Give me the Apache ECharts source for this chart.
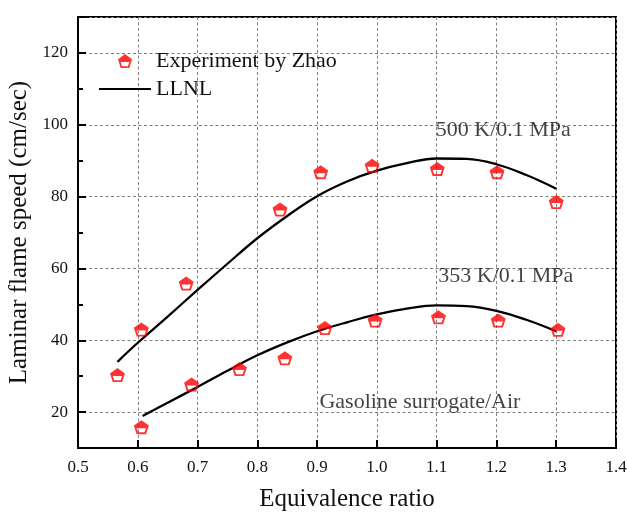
<!DOCTYPE html>
<html>
<head>
<meta charset="utf-8">
<script src="https://cdn.jsdelivr.net/npm/echarts@6/dist/echarts.min.js"></script>
<style>
  html, body { margin: 0; padding: 0; background: #fff; }
  #chart { width: 627px; height: 513px; }
</style>
</head>
<body>
<div id="chart"></div>
<script>
// Laminar flame speed of a gasoline surrogate / air mixture vs equivalence ratio

// Experimental points (Zhao), 500 K / 0.1 MPa
const exp500Phi = [0.566, 0.606, 0.681, 0.838, 0.906, 0.992, 1.101, 1.201, 1.300];
const exp500Speed = [30.3, 43.0, 55.8, 76.4, 86.8, 88.6, 87.7, 86.8, 78.5];

// Experimental points (Zhao), 353 K / 0.1 MPa
const exp353Phi = [0.606, 0.690, 0.770, 0.846, 0.913, 0.997, 1.103, 1.203, 1.303];
const exp353Speed = [15.8, 27.7, 32.0, 35.0, 43.4, 45.5, 46.4, 45.5, 42.9];

// LLNL mechanism predictions
const llnl500Phi = [0.566, 0.60, 0.65, 0.70, 0.75, 0.80, 0.85, 0.90, 0.95, 1.00, 1.05, 1.10, 1.15, 1.20, 1.25, 1.30];
const llnl500Speed = [34.0, 39.3, 46.6, 54.0, 61.3, 68.4, 74.6, 80.1, 84.2, 87.2, 89.3, 90.6, 90.5, 89.0, 86.0, 82.2];

const llnl353Phi = [0.608, 0.65, 0.70, 0.75, 0.80, 0.85, 0.90, 0.95, 1.00, 1.05, 1.10, 1.15, 1.20, 1.25, 1.30];
const llnl353Speed = [18.9, 22.6, 27.0, 31.5, 35.8, 39.4, 42.5, 45.0, 47.2, 48.8, 49.7, 49.5, 48.2, 45.7, 42.5];

// In-plot annotations: [phi, speed, text]
const notePhi = [1.2115, 1.2157, 1.072];
const noteSpeed = [98.6, 57.9, 22.8];
const noteText = ['500 K/0.1 MPa', '353 K/0.1 MPa', 'Gasoline surrogate/Air'];

const FONT = 'Liberation Serif, Times New Roman, serif';
const INK = '#111111';
const RED = '#ff0000';

// Pentagon with a solid upper part and an outlined lower part
const halfPentagon = 'path://M50,0L100,38L81,100L19,100L0,38ZM19,57L29,87L71,87L81,57Z';
// Plain horizontal stroke for the model legend entry
const lineIcon = 'path://M0,0L100,0L100,4.3L0,4.3Z';

const zip = (xs, ys) => xs.map((x, i) => [x, ys[i]]);

const chart = echarts.init(document.getElementById('chart'), null, { renderer: 'canvas' });

const expSeries = (xs, ys) => ({
  name: 'Experiment by Zhao',
  type: 'scatter',
  data: zip(xs, ys),
  symbol: halfPentagon,
  symbolSize: [15, 14],
  itemStyle: { color: RED },
  z: 4
});

const modelSeries = (xs, ys) => ({
  name: 'LLNL',
  type: 'line',
  data: zip(xs, ys),
  smooth: 0.4,
  showSymbol: false,
  symbol: 'none',
  lineStyle: { color: '#000', width: 2.3 },
  itemStyle: { color: '#000' },
  z: 3
});

chart.setOption({
  animation: false,
  backgroundColor: '#fff',
  textStyle: { fontFamily: FONT },
  grid: {
    left: 78, right: 11, top: 17, bottom: 65,
    show: true, borderColor: '#000', borderWidth: 2,
    containLabel: false,
    outerBoundsMode: 'none'
  },
  legend: {
    data: [
      { name: 'Experiment by Zhao' },
      { name: 'LLNL', icon: lineIcon }
    ],
    orient: 'vertical',
    left: 99, top: 50,
    padding: 0,
    itemGap: 6,
    itemWidth: 52,
    itemHeight: 14,
    textStyle: { fontFamily: FONT, fontSize: 22, color: INK },
    selectedMode: false
  },
  xAxis: {
    type: 'value',
    min: 0.5, max: 1.4, interval: 0.1,
    name: 'Equivalence ratio',
    nameLocation: 'middle',
    nameGap: 39,
    nameTextStyle: { fontFamily: FONT, fontSize: 25, color: INK },
    axisLine: { show: true, onZero: false, lineStyle: { color: '#000', width: 2 } },
    axisTick: { show: true, inside: true, length: 8, lineStyle: { color: '#000', width: 2 } },
    axisLabel: { fontFamily: FONT, fontSize: 17, color: INK, margin: 11,
      formatter: v => v.toFixed(1) },
    splitLine: { show: true, lineStyle: { color: '#808080', width: 1, type: [3, 2.5] } }
  },
  yAxis: [
    {
      type: 'value',
      min: 10, max: 130, splitNumber: 6,
      name: 'Laminar flame speed (cm/sec)',
      nameLocation: 'middle',
      nameGap: 44,
      nameTextStyle: { fontFamily: FONT, fontSize: 25, color: INK },
      axisLine: { show: true, onZero: false, lineStyle: { color: '#000', width: 2 } },
      axisTick: { show: true, inside: true, length: 8, lineStyle: { color: '#000', width: 2 } },
      axisLabel: { fontFamily: FONT, fontSize: 17, color: INK, margin: 10,
        formatter: v => (v % 20 === 0 ? String(v) : '') },
      splitLine: { show: true, lineStyle: { color: '#808080', width: 1, type: [3, 2.5] } }
    },
    {
      // short ticks every 10 units along the same left edge
      type: 'value',
      min: 10, max: 130, interval: 10,
      position: 'left',
      axisLine: { show: false },
      axisTick: { show: true, inside: true, length: 5, lineStyle: { color: '#000', width: 2 } },
      axisLabel: { show: false },
      splitLine: { show: false }
    }
  ],
  series: [
    modelSeries(llnl500Phi, llnl500Speed),
    modelSeries(llnl353Phi, llnl353Speed),
    expSeries(exp500Phi, exp500Speed),
    expSeries(exp353Phi, exp353Speed),
    {
      name: 'notes',
      type: 'scatter',
      silent: true,
      symbolSize: 1,
      itemStyle: { color: 'rgba(0,0,0,0)' },
      data: notePhi.map((x, i) => [x, noteSpeed[i], noteText[i]]),
      label: {
        show: true,
        position: 'inside',
        formatter: p => p.data[2],
        fontFamily: FONT,
        fontSize: 22,
        color: INK
      },
      z: 5
    }
  ]
});
</script>
</body>
</html>
